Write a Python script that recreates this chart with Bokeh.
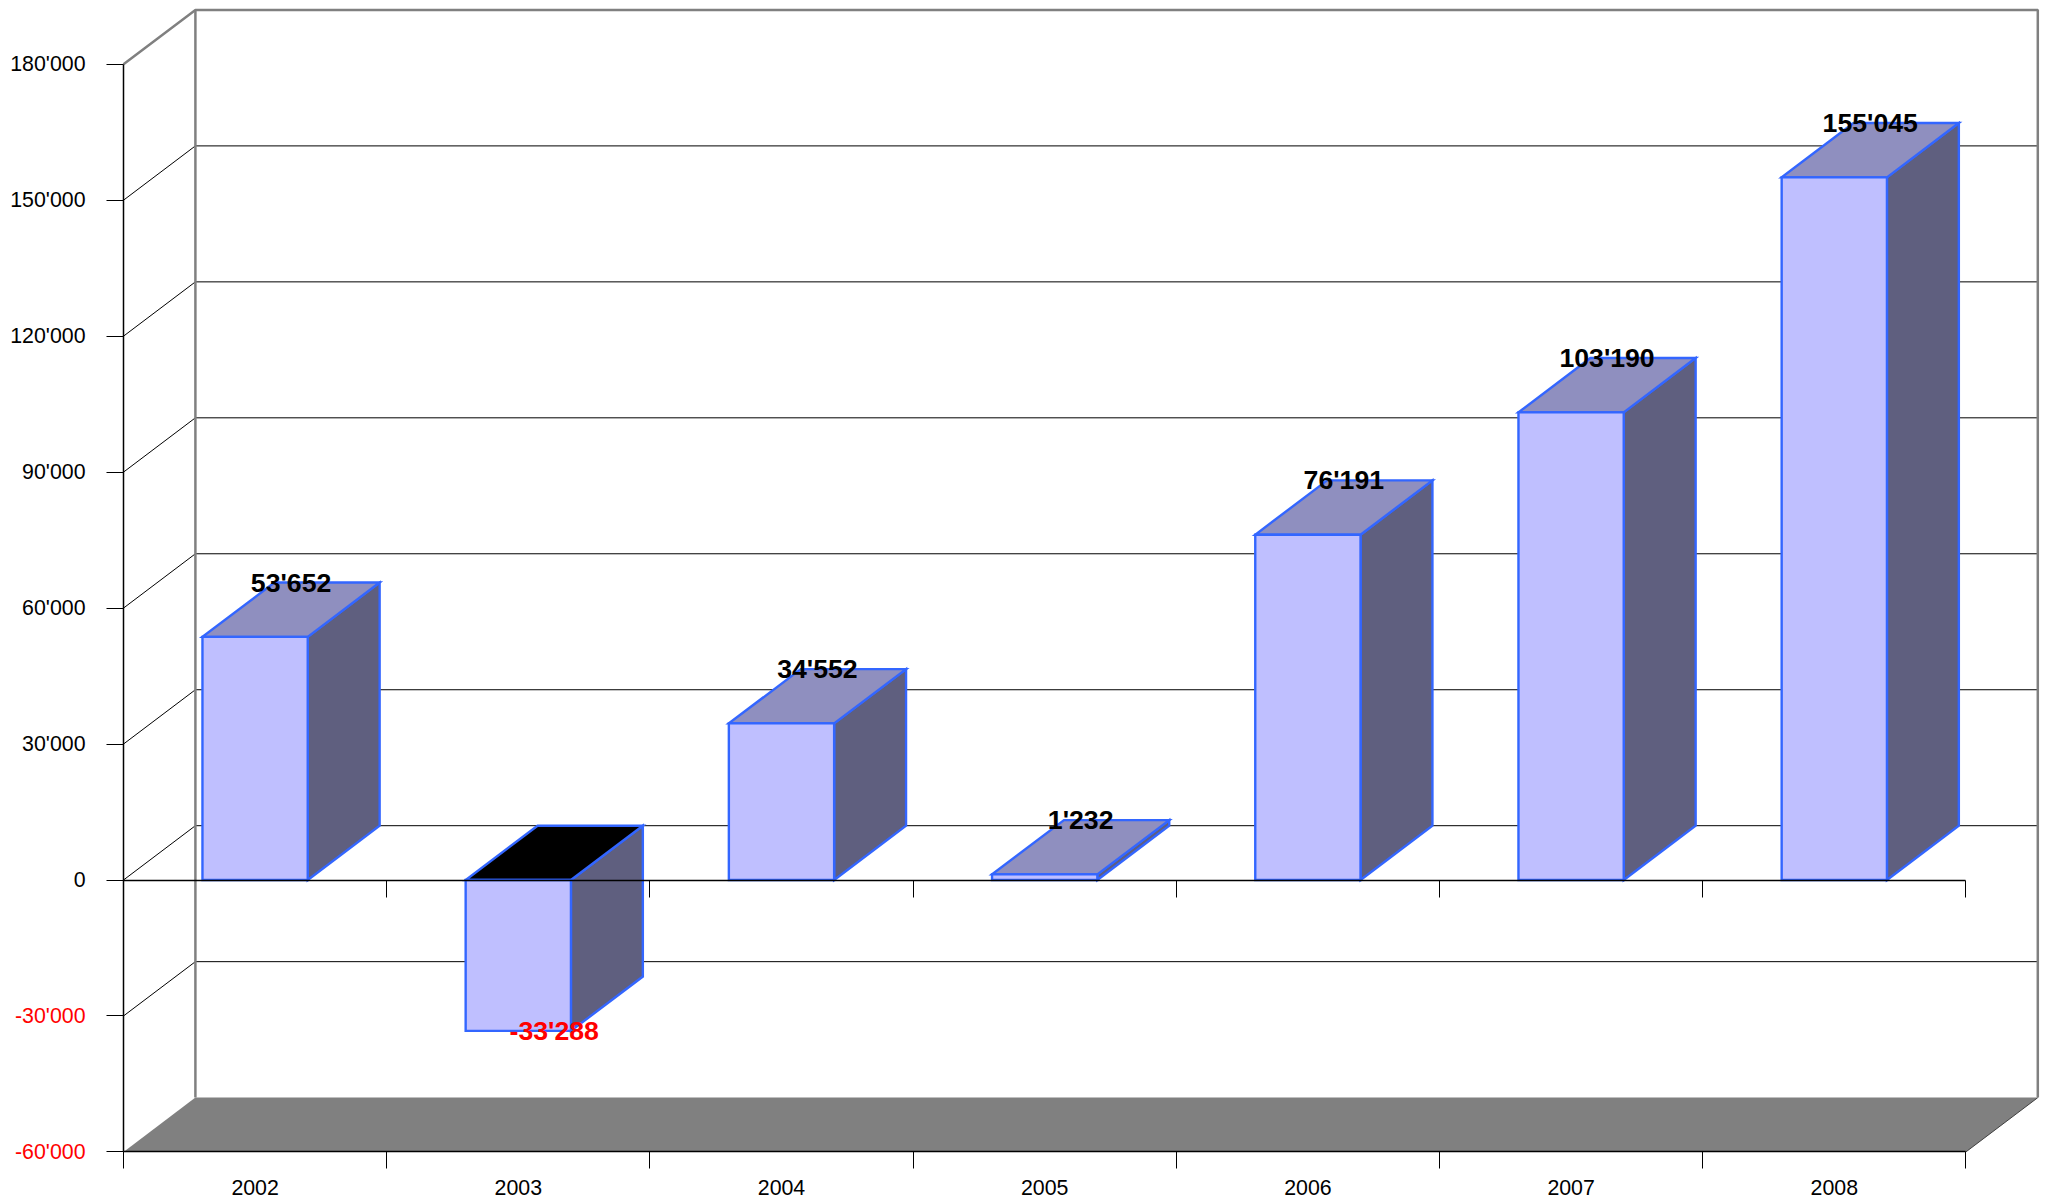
from bokeh.embed import file_html
from bokeh.resources import INLINE
from bokeh.core.properties import value
from bokeh.models import ColumnDataSource, FixedTicker, LinearAxis, Range1d
from bokeh.plotting import figure

# --- data ---
years = [2002, 2003, 2004, 2005, 2006, 2007, 2008]
results = [53652, -33288, 34552, 1232, 76191, 103190, 155045]
labels = ["53'652", "-33'288", "34'552", "1'232", "76'191", "103'190", "155'045"]
y_ticks_pos = [0, 30000, 60000, 90000, 120000, 150000, 180000]
y_ticks_neg = [-60000, -30000]

# --- styling / geometry ---
FONT = "Liberation Sans"
PX_X = 263.2     # px per category
PX_Y = 4.532     # px per 1000
ZERO_PX = 879.5
LEFT_PX = 123.0
DX = 71.9 / PX_X
DY = 54.3 / PX_Y * 1000
HALF = 0.2
BLUE = "#3366ff"
GREY = "#808080"
x0, x1 = years[0] - 0.5, years[-1] + 0.5
ymin, ymax = y_ticks_neg[0], y_ticks_pos[-1]

WIDTH, HEIGHT = 2049, 1199

p = figure(
    width=WIDTH, height=HEIGHT, output_backend="svg", toolbar_location=None,
    min_border=0, x_axis_type=None, y_axis_type=None, outline_line_color=None,
    x_range=Range1d(x0 - LEFT_PX / PX_X, x0 + (WIDTH - LEFT_PX) / PX_X),
    y_range=Range1d((ZERO_PX - HEIGHT) / PX_Y * 1000, ZERO_PX / PX_Y * 1000),
)
p.grid.visible = False

all_ticks = y_ticks_neg + y_ticks_pos
inner = [t for t in all_ticks if t not in (ymin, ymax)]
back = [t + DY for t in inner]
# side-wall diagonals and back-wall grid
p.segment(x0, inner, x0 + DX, back, line_color="#000000", line_width=1)
p.segment(x0 + DX, back, x1 + DX, back, line_color="#000000", line_width=1)

# floor
p.patch([x0, x1, x1 + DX, x0 + DX], [ymin, ymin, ymin + DY, ymin + DY],
        fill_color=GREY, line_color=None)
p.line([x1, x1 + DX], [ymin, ymin + DY], line_color="#404040", line_width=1)

# walls' grey frame
p.line([x0, x0 + DX, x1 + DX, x1 + DX], [ymax, ymax + DY, ymax + DY, ymin + DY],
       line_color=GREY, line_width=2.5)
p.line([x0 + DX, x0 + DX], [ymin + DY, ymax + DY], line_color=GREY, line_width=2.5)


# bars
def poly(fn):
    return [fn(x, v) for x, v in zip(years, results)]


front = poly(lambda x, v: ([x - HALF, x + HALF, x + HALF, x - HALF], [0, 0, v, v]))
side = poly(lambda x, v: ([x + HALF, x + HALF + DX, x + HALF + DX, x + HALF], [0, DY, v + DY, v]))
top_y = poly(lambda x, v: (
    [x - HALF, x + HALF, x + HALF + DX, x - HALF + DX],
    [max(v, 0)] * 2 + [max(v, 0) + DY] * 2,
))
top_col = ["#8f8fbf" if v >= 0 else "#000000" for v in results]


def draw(polys, colors):
    src = ColumnDataSource(dict(xs=[a for a, _ in polys], ys=[b for _, b in polys], c=colors))
    p.patches("xs", "ys", source=src, fill_color="c", line_color=BLUE, line_width=2.4,
              line_join="miter")


for i in range(len(years)):
    draw([side[i]], ["#5f5f7f"])
    draw([top_y[i]], [top_col[i]])
    draw([front[i]], ["#bfbfff"])

# value labels
lab_src = ColumnDataSource(dict(
    x=[y + DX / 2 for y in years],
    y=[v + DY if v >= 0 else v for v in results],
    t=labels,
    c=["#000000" if v >= 0 else "#ff0000" for v in results],
))
p.text("x", "y", text="t", source=lab_src, text_color="c", text_align="center",
       text_baseline="middle", text_font=value(FONT), text_font_size="26.67px",
       text_font_style="bold")


def fmt(v):
    return f"{v:,}".replace(",", "'")


def y_axis(ticks, color, line):
    ax = LinearAxis(ticker=FixedTicker(ticks=ticks), bounds=(ymin, ymax),
                    major_label_overrides={t: fmt(t) for t in ticks},
                    major_tick_out=17, major_tick_in=0, major_label_standoff=21,
                    major_tick_line_color="#000000", major_tick_line_width=1,
                    axis_line_color=line, axis_line_width=1.5,
                    major_label_text_color=color, major_label_text_font=FONT,
                    major_label_text_font_size="21.33px", major_label_text_font_style="normal",
                    minor_tick_line_color=None, fixed_location=x0)
    p.add_layout(ax, "left")


y_axis(y_ticks_pos, "#000000", "#000000")
y_axis(y_ticks_neg, "#ff0000", None)

boundaries = [y - 0.5 for y in years] + [x1]


def x_axis(major, fixed):
    ax = LinearAxis(ticker=FixedTicker(ticks=major, minor_ticks=boundaries), bounds=(x0, x1),
                    major_label_overrides={y: str(y) for y in major},
                    major_tick_line_color=None, major_tick_out=0, major_tick_in=0,
                    minor_tick_out=17, minor_tick_in=0, minor_tick_line_color="#000000",
                    minor_tick_line_width=1, axis_line_color="#000000", axis_line_width=1.5,
                    major_label_standoff=11, major_label_text_color="#000000",
                    major_label_text_font=FONT, major_label_text_font_size="21.33px",
                    major_label_text_font_style="normal", fixed_location=fixed)
    p.add_layout(ax, "below")


x_axis(years, ymin)
x_axis([], 0)

open("out.html", "w").write(file_html(p, INLINE))
